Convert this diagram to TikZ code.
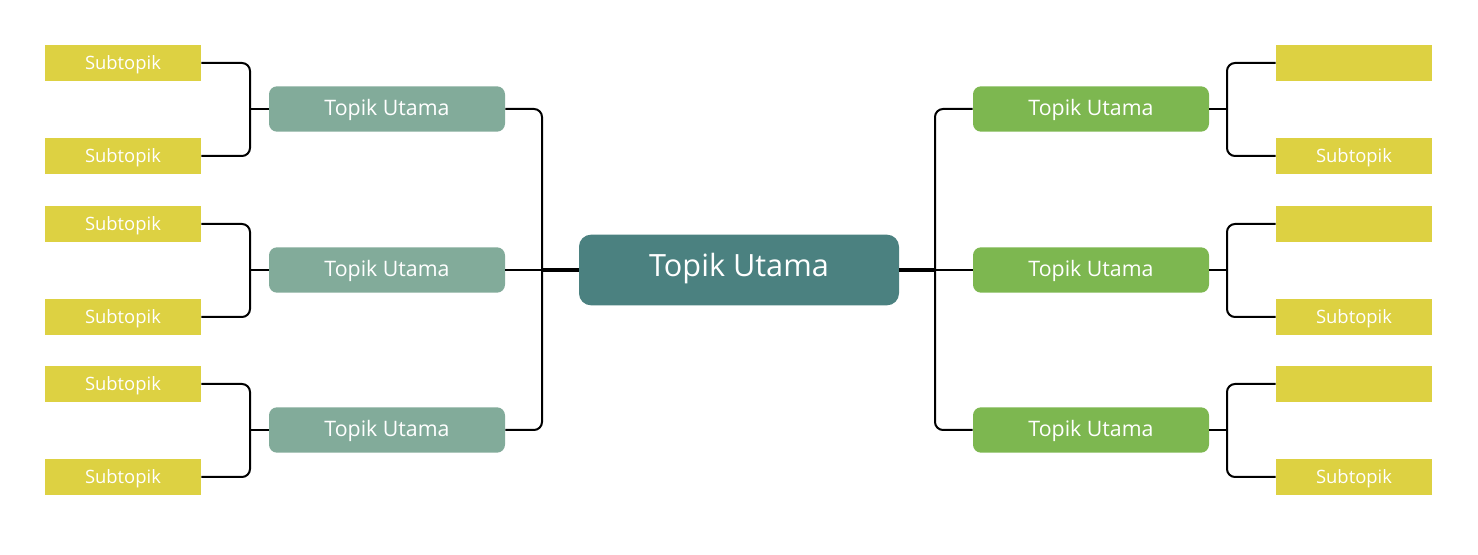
\documentclass[tikz,border=0pt]{standalone}
\usepackage{fontspec}
\setmainfont{Open Sans}
\usetikzlibrary{positioning,calc}
\definecolor{pmsun}    {HTML}{DDD142}
\definecolor{pmsage}   {HTML}{82AB9A}
\definecolor{pmteal}   {HTML}{4B8180}
\definecolor{pmgrass}  {HTML}{7DB750}
\tikzset{
  pmsub/.style={fill=pmsun, text=white, minimum width=117pt, minimum height=27pt,
                inner sep=0pt, text height=1.05em, text depth=0pt,
                font=\fontsize{13.8}{16}\selectfont},
  pmtopic/.style={fill=pmsage, text=white, rounded corners=6pt, minimum width=177pt,
                  minimum height=34pt, inner sep=0pt, text height=1.05em, text depth=0pt,
                  font=\fontsize{16}{19}\selectfont},
  pmrtopic/.style={pmtopic, fill=pmgrass},
  pmcore/.style={fill=pmteal, text=white, rounded corners=9pt, minimum width=240pt,
                 minimum height=53pt, inner sep=0pt, text height=1.0em, text depth=0pt,
                 font=\fontsize{23}{27}\selectfont},
  pmlink/.style={draw=black, line width=1.5pt, rounded corners=6pt},
  pmspine/.style={draw=black, line width=2.3pt},
}
\begin{document}
\begin{tikzpicture}[x=0.75pt,y=-0.75pt]
  \useasboundingbox (0,0) rectangle (1478,555);
  % centre
  \node[pmcore] (core) at (739,270) {Topik Utama};
  % left side
  \node[pmtopic] (l1) at (387,109) {Topik Utama};
  \node[pmtopic] (l2) at (387,270) {Topik Utama};
  \node[pmtopic] (l3) at (387,430) {Topik Utama};
  \node[pmsub] (l1a) at (123,63)  {Subtopik};
  \node[pmsub] (l1b) at (123,156) {Subtopik};
  \node[pmsub] (l2a) at (123,224) {Subtopik};
  \node[pmsub] (l2b) at (123,317) {Subtopik};
  \node[pmsub] (l3a) at (123,384) {Subtopik};
  \node[pmsub] (l3b) at (123,477) {Subtopik};
  % right side
  \node[pmrtopic] (r1) at (1091,109) {Topik Utama};
  \node[pmrtopic] (r2) at (1091,270) {Topik Utama};
  \node[pmrtopic] (r3) at (1091,430) {Topik Utama};
  \node[pmsub] (r1a) at (1354,63)  {};
  \node[pmsub] (r1b) at (1354,156) {Subtopik};
  \node[pmsub] (r2a) at (1354,224) {};
  \node[pmsub] (r2b) at (1354,317) {Subtopik};
  \node[pmsub] (r3a) at (1354,384) {};
  \node[pmsub] (r3b) at (1354,477) {Subtopik};
  % junctions
  \coordinate (jl) at (542,270);
  \coordinate (jr) at (935,270);
  \coordinate (jl1) at (250,109);
  \coordinate (jl2) at (250,270);
  \coordinate (jl3) at (250,430);
  \coordinate (jr1) at (1227,109);
  \coordinate (jr2) at (1227,270);
  \coordinate (jr3) at (1227,430);
  % main branches
  \draw[pmlink] (l1.east) -| (jl) |- (l3.east);
  \draw[pmlink] (l2.east) -- (jl);
  \draw[pmspine] (jl) -- (core.west);
  \draw[pmlink] (r1.west) -| (jr) |- (r3.west);
  \draw[pmlink] (r2.west) -- (jr);
  \draw[pmspine] (jr) -- (core.east);
  % sub branches
  \draw[pmlink] (l1a.east) -| (jl1) |- (l1b.east);
  \draw[pmlink] (jl1) -- (l1.west);
  \draw[pmlink] (l2a.east) -| (jl2) |- (l2b.east);
  \draw[pmlink] (jl2) -- (l2.west);
  \draw[pmlink] (l3a.east) -| (jl3) |- (l3b.east);
  \draw[pmlink] (jl3) -- (l3.west);
  \draw[pmlink] (r1a.west) -| (jr1) |- (r1b.west);
  \draw[pmlink] (jr1) -- (r1.east);
  \draw[pmlink] (r2a.west) -| (jr2) |- (r2b.west);
  \draw[pmlink] (jr2) -- (r2.east);
  \draw[pmlink] (r3a.west) -| (jr3) |- (r3b.west);
  \draw[pmlink] (jr3) -- (r3.east);
\end{tikzpicture}
\end{document}
